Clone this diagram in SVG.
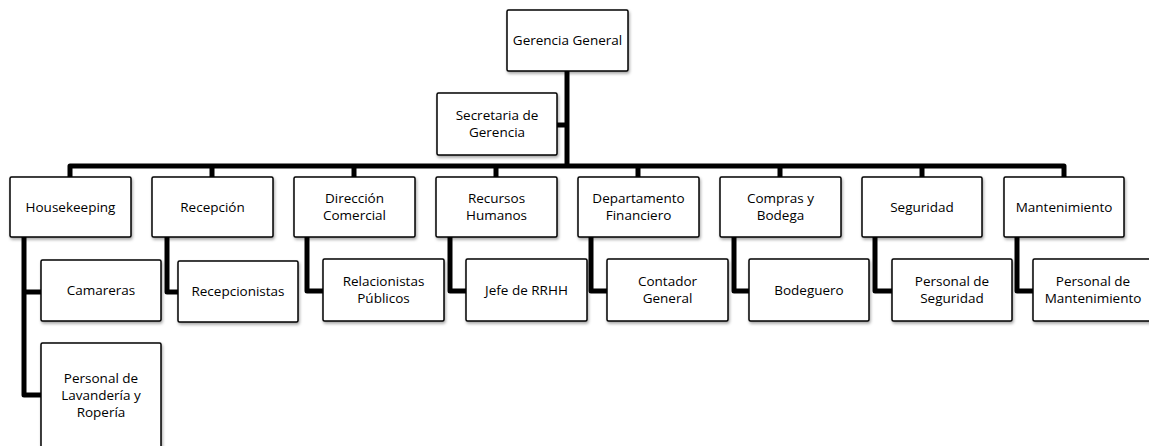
<svg xmlns="http://www.w3.org/2000/svg" width="1149" height="446" viewBox="0 0 1149 446">
<style>
.box{fill:#fff;stroke:#000;stroke-width:1.5;filter:url(#sh)}
.t{font-family:"Open Sans","Liberation Sans",sans-serif;font-size:13.5px;fill:#000;text-anchor:middle}
.c{fill:none;stroke:#000;stroke-width:5;stroke-linejoin:round;stroke-linecap:butt}
</style>
<defs>
<filter id="sh" x="-10%" y="-10%" width="130%" height="140%">
<feDropShadow dx="1" dy="2" stdDeviation="1.5" flood-color="#000" flood-opacity="0.35"/>
</filter>
</defs>
<rect width="1149" height="446" fill="#fff"/>
<g id="connectors">
<path class="c" d="M567,71 V166"/>
<path class="c" d="M557,125 H567"/>
<path class="c" d="M70,177 V166 H1064 V177"/>
<path class="c" d="M212,166 V177 M354,166 V177 M496,166 V177 M638,166 V177 M780,166 V177 M922,166 V177"/>
<path class="c" d="M24,237 V395 H41 M24,292 H41"/>
<path class="c" d="M167,237 V292 H178"/>
<path class="c" d="M307,237 V291 H323"/>
<path class="c" d="M450,237 V291 H466"/>
<path class="c" d="M591,237 V291 H607"/>
<path class="c" d="M734,237 V291 H749"/>
<path class="c" d="M875,237 V291 H892"/>
<path class="c" d="M1017,237 V291 H1033"/>
</g>
<g id="gerencia"><rect class="box" x="507" y="10" width="121" height="61" rx="1.5"/><text class="t" x="567.5" y="45">Gerencia General</text></g>
<g id="secretaria"><rect class="box" x="437" y="93" width="120" height="62" rx="1.5"/><text class="t" x="497" y="120">Secretaria de</text><text class="t" x="497" y="137">Gerencia</text></g>
<g id="housekeeping"><rect class="box" x="10" y="177" width="121" height="60" rx="1.5"/><text class="t" x="70.5" y="212">Housekeeping</text></g>
<g id="recepcion"><rect class="box" x="152" y="177" width="121" height="60" rx="1.5"/><text class="t" x="212.5" y="212">Recepción</text></g>
<g id="direccion"><rect class="box" x="294" y="177" width="121" height="60" rx="1.5"/><text class="t" x="354.5" y="203">Dirección</text><text class="t" x="354.5" y="220">Comercial</text></g>
<g id="rrhh"><rect class="box" x="436" y="177" width="121" height="60" rx="1.5"/><text class="t" x="496.5" y="203">Recursos</text><text class="t" x="496.5" y="220">Humanos</text></g>
<g id="financiero"><rect class="box" x="578" y="177" width="121" height="60" rx="1.5"/><text class="t" x="638.5" y="203">Departamento</text><text class="t" x="638.5" y="220">Financiero</text></g>
<g id="compras"><rect class="box" x="720" y="177" width="121" height="60" rx="1.5"/><text class="t" x="780.5" y="203">Compras y</text><text class="t" x="780.5" y="220">Bodega</text></g>
<g id="seguridad"><rect class="box" x="862" y="177" width="120" height="60" rx="1.5"/><text class="t" x="922" y="212">Seguridad</text></g>
<g id="mantenimiento"><rect class="box" x="1004" y="177" width="120" height="60" rx="1.5"/><text class="t" x="1064" y="212">Mantenimiento</text></g>
<g id="camareras"><rect class="box" x="41" y="260" width="120" height="61" rx="1.5"/><text class="t" x="101" y="295">Camareras</text></g>
<g id="lavanderia"><rect class="box" x="41" y="343" width="120" height="106" rx="1.5"/><text class="t" x="101" y="383">Personal de</text><text class="t" x="101" y="400">Lavandería y</text><text class="t" x="101" y="417">Ropería</text></g>
<g id="recepcionistas"><rect class="box" x="178" y="261" width="120" height="61" rx="1.5"/><text class="t" x="238" y="296">Recepcionistas</text></g>
<g id="relacionistas"><rect class="box" x="323" y="259" width="121" height="62" rx="1.5"/><text class="t" x="383.5" y="286">Relacionistas</text><text class="t" x="383.5" y="303">Públicos</text></g>
<g id="jefe"><rect class="box" x="466" y="259" width="121" height="62" rx="1.5"/><text class="t" x="526.5" y="295">Jefe de RRHH</text></g>
<g id="contador"><rect class="box" x="607" y="259" width="121" height="62" rx="1.5"/><text class="t" x="667.5" y="286">Contador</text><text class="t" x="667.5" y="303">General</text></g>
<g id="bodeguero"><rect class="box" x="749" y="259" width="120" height="62" rx="1.5"/><text class="t" x="809" y="295">Bodeguero</text></g>
<g id="personal-seguridad"><rect class="box" x="892" y="259" width="120" height="62" rx="1.5"/><text class="t" x="952" y="286">Personal de</text><text class="t" x="952" y="303">Seguridad</text></g>
<g id="personal-mantenimiento"><rect class="box" x="1033" y="259" width="121" height="62" rx="1.5"/><text class="t" x="1093" y="286">Personal de</text><text class="t" x="1093" y="303">Mantenimiento</text></g>
</svg>
